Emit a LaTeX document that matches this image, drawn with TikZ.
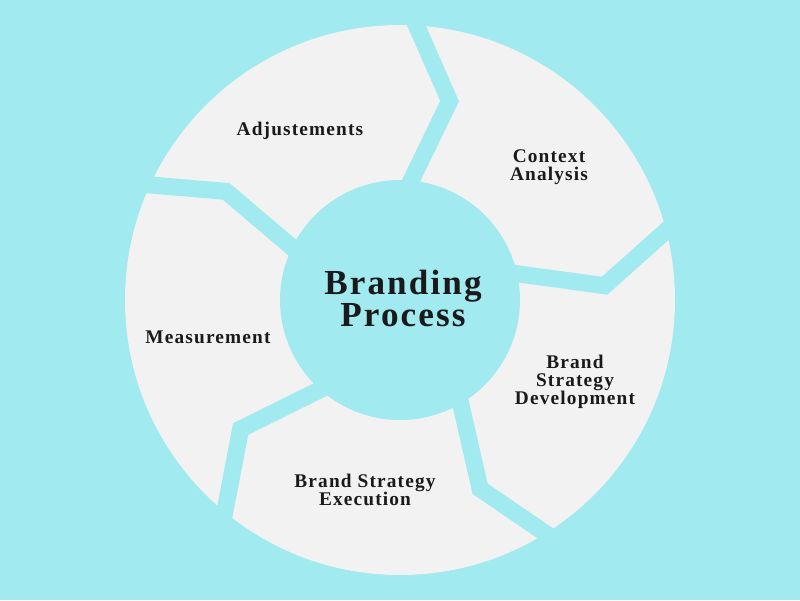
\documentclass[tikz,border=0pt]{standalone}
\usepackage{fontspec}
\setmainfont{Liberation Serif}[LetterSpace=6]
\definecolor{bgc}{HTML}{A0EAF0}
\definecolor{seg}{HTML}{F2F2F2}
\definecolor{txt}{HTML}{1A1A1A}
\begin{document}
\begin{tikzpicture}[x=0.02cm,y=0.02cm,
  gap/.style={draw=bgc,line width=17*0.02cm,line join=miter,miter limit=10},
  lbl/.style={font=\bfseries\fontsize{11}{10.3}\selectfont,align=center,text=txt},
  ttl/.style={font=\bfseries\fontsize{20}{18.2}\selectfont,align=center,text=txt}]
\fill[bgc] (-400,-300) rectangle (400,300);
\useasboundingbox (-400,-300) rectangle (400,300);
\fill[seg] (0,0) circle (275);
\foreach \a/\v in {89/76,17/4,-56/-67,-127/-141,157/148}{
  \draw[gap] (\a:100) -- (\v:205) -- (\a:300);
}
\node[circle,fill=bgc,minimum size=240*0.02cm,inner sep=0] (c) at (0,0) {};
\node[ttl] (t) at (3,2) {Branding\\Process};
\node[lbl] (a1) at (-100,169) {Adjustements};
\node[lbl] (a2) at (149,133) {Context\\Analysis};
\node[lbl] (a3) at (175,-82) {Brand\\Strategy\\Development};
\node[lbl] (a4) at (-35,-190) {Brand Strategy\\Execution};
\node[lbl] (a5) at (-192,-37) {Measurement};
\end{tikzpicture}
\end{document}
